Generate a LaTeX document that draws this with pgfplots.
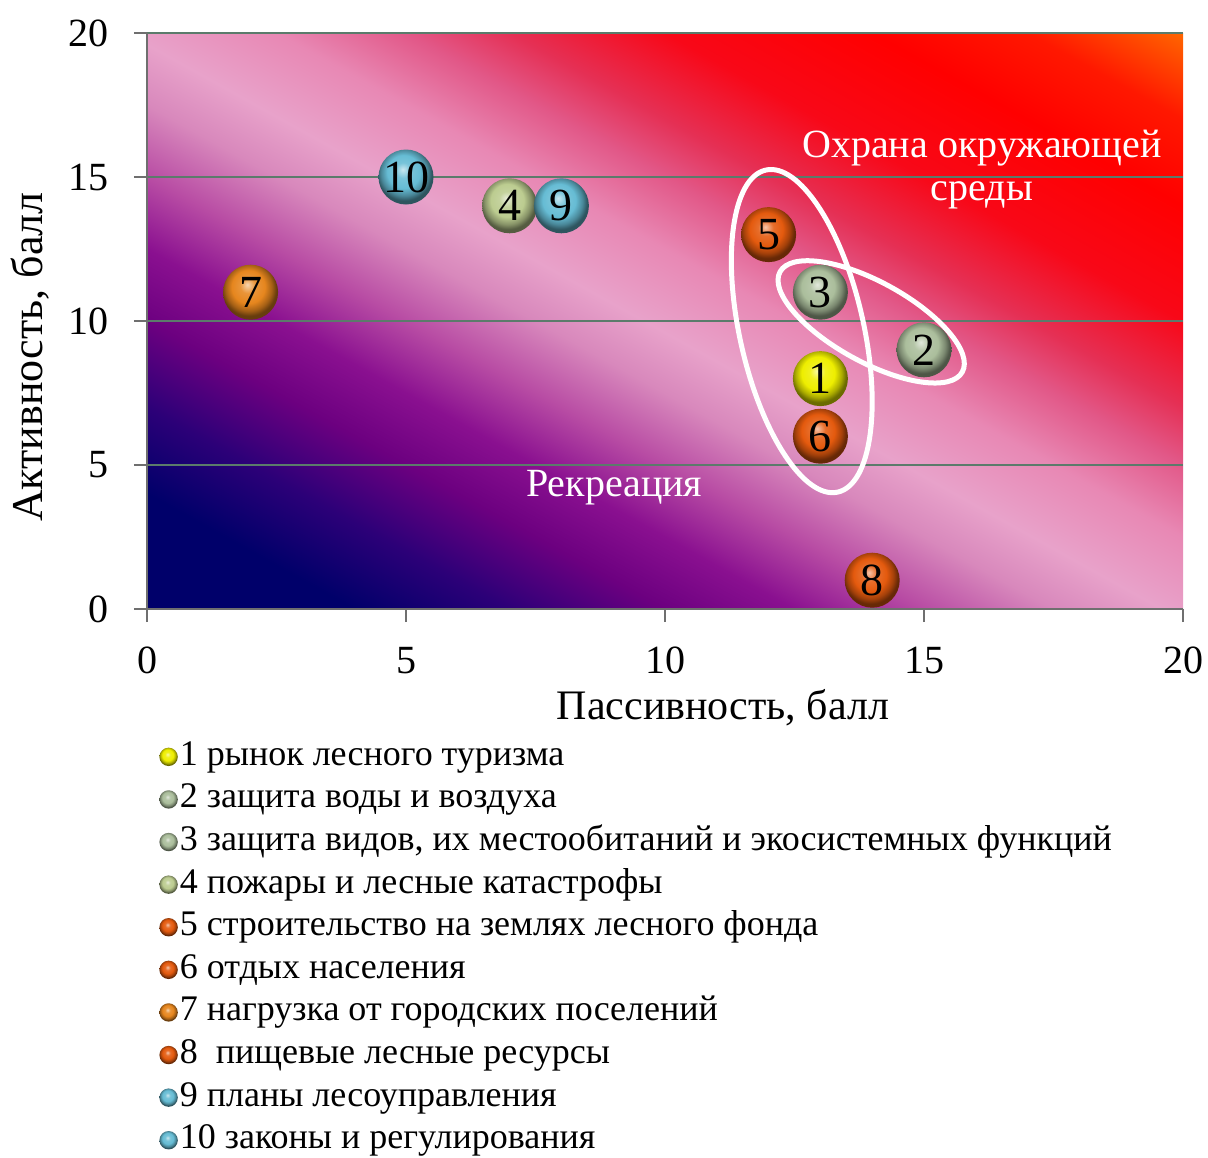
\documentclass[border=0pt]{standalone}
\usepackage{fontspec}
\setmainfont{Liberation Serif}
\usepackage{pgfplots}
\pgfplotsset{compat=1.18}

\definecolor{sA}{HTML}{00006A}
\definecolor{sB}{HTML}{2C0078}
\definecolor{sC}{HTML}{6C0080}
\definecolor{sD}{HTML}{8A1090}
\definecolor{sE}{HTML}{B84CA4}
\definecolor{sF}{HTML}{D888BC}
\definecolor{sG}{HTML}{E8A2CA}
\definecolor{sH}{HTML}{E888B4}
\definecolor{sI}{HTML}{E25888}
\definecolor{sJ}{HTML}{E53055}
\definecolor{sK}{HTML}{F80818}
\definecolor{sL}{HTML}{FF0000}
\definecolor{sM}{HTML}{FF1800}
\definecolor{sN}{HTML}{FF6600}
% position s = 25 + 1.25*(x+y)
\pgfdeclarehorizontalshading{bgshade}{100bp}{color(0bp)=(sA); color(30bp)=(sA); color(33.75bp)=(sB); color(37.5bp)=(sC); color(40.625bp)=(sD); color(43.75bp)=(sE); color(46.875bp)=(sF); color(49.5bp)=(sG); color(53.125bp)=(sH); color(56.25bp)=(sI); color(58.75bp)=(sJ); color(62.5bp)=(sK); color(67.5bp)=(sL); color(71.25bp)=(sM); color(75bp)=(sN); color(100bp)=(sN)}

\definecolor{axisgray}{HTML}{6F6F6F}
\definecolor{gridc}{HTML}{5B7B6B}
\definecolor{cyel}{HTML}{EEEE00}
\definecolor{cgrn}{HTML}{ABBE9C}
\definecolor{cgrn4}{HTML}{BCCC90}
\definecolor{cred}{HTML}{E45A0E}
\definecolor{corg}{HTML}{E6861E}
\definecolor{cblu}{HTML}{66BCD4}

\colorlet{ballc}{red}
\pgfdeclareradialshading[ballc]{myball}{\pgfpoint{-3bp}{7bp}}{color(0bp)=(ballc!35!white); color(7bp)=(ballc!88!white); color(15bp)=(ballc); color(21bp)=(ballc!72!black); color(25bp)=(ballc!45!black); color(50bp)=(ballc!45!black)}
\pgfdeclareplotmark{myball}{\pgfpathcircle{\pgfpointorigin}{\pgfplotmarksize}\pgfshadepath{myball}{0}\pgfusepath{}}
\tikzset{ballc/.code={\colorlet{ballc}{#1}}}

\begin{document}
\begin{tikzpicture}
\useasboundingbox (-73.5pt,-274pt) rectangle (530.5pt,304.5pt);
% background gradient of the plot area (colour depends on x+y)
\begin{scope}
\clip (0pt,0pt) rectangle (518pt,288pt);
\begin{scope}[transform canvas={cm={5.18,2.88,5.18,-2.88,(-259pt,144pt)}}]
\shade[shading=bgshade] (0pt,0pt) rectangle (100pt,100pt);
\end{scope}
\end{scope}
\begin{axis}[
  at={(0pt,0pt)}, anchor=south west,
  scale only axis, width=518pt, height=288pt,
  xmin=0, xmax=20, ymin=0, ymax=20,
  xtick={0,5,...,20}, ytick={0,5,...,20},
  axis x line*=bottom, axis y line*=left,
  axis line style={draw=axisgray, line width=1pt},
  tick align=outside, major tick length=6.5pt,
  tick style={draw=axisgray, line width=1pt},
  ymajorgrids, grid style={draw=gridc, line width=1.2pt},
  ticklabel style={font=\fontsize{20}{24}\selectfont},
  /pgf/number format/assume math mode=true,
  xticklabel style={yshift=-9pt},
  yticklabel style={xshift=-9pt},
  xlabel={Пассивность, балл}, ylabel={Активность, балл},
  xlabel style={font=\fontsize{21}{24}\selectfont, at={(axis description cs:0.556,-0.172)}, anchor=center},
  ylabel style={font=\fontsize{22}{24}\selectfont, at={(axis description cs:-0.113,0.4375)}, anchor=center},
  legend style={at={(axis description cs:0.0116,-0.219)}, anchor=north west, draw=none, fill=none, inner sep=0pt, row sep=0pt,
    font=\fontsize{18}{20}\selectfont,
    nodes={inner xsep=1pt, inner ysep=2.4pt, text height=12.5pt, text depth=4pt},
    /tikz/every even column/.append style={column sep=2pt}},
  legend cell align=left,
  legend image code/.code={\draw[#1, mark size=4.6pt] plot coordinates {(0pt,0pt)};},
  every node near coord/.append style={font=\fontsize{23}{24}\selectfont, text=black, inner sep=0pt},
  nodes near coords align={center},
  clip=false,
]
% ellipses
\draw[white, line width=2.5pt, rotate around={-77.4:(axis cs:12.64,9.65)}] (axis cs:12.64,9.65) ellipse [x radius=82.5pt, y radius=31pt];
\draw[white, line width=2.5pt, rotate around={-28.8:(axis cs:13.98,9.97)}] (axis cs:13.98,9.97) ellipse [x radius=52pt, y radius=20pt];

\node[text=white, font=\fontsize{20}{21.5}\selectfont, align=center] at (axis cs:16.12,15.27) {Охрана окружающей\\среды};
\node[text=white, font=\fontsize{20}{22}\selectfont] at (axis cs:9.02,4.2) {Рекреация};

\addplot[only marks, mark=myball, ballc=cyel, mark size=13.75pt, nodes near coords={1}] coordinates {(13,8)};
\addlegendentry{1 рынок лесного туризма}
\addplot[only marks, mark=myball, ballc=cgrn, mark size=13.75pt, nodes near coords={2}] coordinates {(15,9)};
\addlegendentry{2 защита воды и воздуха}
\addplot[only marks, mark=myball, ballc=cgrn, mark size=13.75pt, nodes near coords={3}] coordinates {(13,11)};
\addlegendentry{3 защита видов, их местообитаний и экосистемных функций}
\addplot[only marks, mark=myball, ballc=cgrn4, mark size=13.75pt, nodes near coords={4}] coordinates {(7,14)};
\addlegendentry{4 пожары и лесные катастрофы}
\addplot[only marks, mark=myball, ballc=cred, mark size=13.75pt, nodes near coords={5}] coordinates {(12,13)};
\addlegendentry{5 строительство на землях лесного фонда}
\addplot[only marks, mark=myball, ballc=cred, mark size=13.75pt, nodes near coords={6}] coordinates {(13,6)};
\addlegendentry{6 отдых населения}
\addplot[only marks, mark=myball, ballc=corg, mark size=13.75pt, nodes near coords={7}] coordinates {(2,11)};
\addlegendentry{7 нагрузка от городских поселений}
\addplot[only marks, mark=myball, ballc=cred, mark size=13.75pt, nodes near coords={8}] coordinates {(14,1)};
\addlegendentry{8\ \ пищевые лесные ресурсы}
\addplot[only marks, mark=myball, ballc=cblu, mark size=13.75pt, nodes near coords={9}] coordinates {(8,14)};
\addlegendentry{9 планы лесоуправления}
\addplot[only marks, mark=myball, ballc=cblu, mark size=13.75pt, nodes near coords={10}] coordinates {(5,15)};
\addlegendentry{10 законы и регулирования}
\end{axis}
\end{tikzpicture}
\end{document}
